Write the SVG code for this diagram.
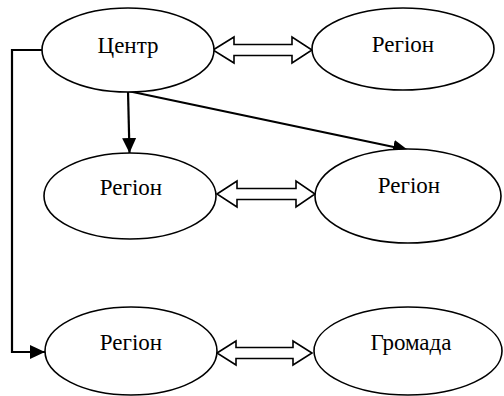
<svg xmlns="http://www.w3.org/2000/svg" width="504" height="396" viewBox="0 0 504 396" font-family="Liberation Serif">
<defs>
<marker id="ah" markerWidth="15" markerHeight="14" refX="15" refY="7" orient="auto" markerUnits="userSpaceOnUse">
<path d="M0,0 L15,7 L0,14 Z" fill="#000"/>
</marker>
</defs>
<rect width="504" height="396" fill="#fff"/>
<g id="connectors" fill="none" stroke="#000" stroke-width="2.2">
<line x1="128" y1="91" x2="129.5" y2="153" marker-end="url(#ah)"/>
<line x1="128" y1="91" x2="408" y2="150" marker-end="url(#ah)"/>
<polyline points="42,50 12,50 12,352 45,352" marker-end="url(#ah)"/>
<g fill="#fff" stroke-width="1.6">
<path d="M213,50 L234,37 L234,44.5 L292,44.5 L292,37 L312,50 L292,63 L292,55.5 L234,55.5 L234,63 Z"/>
<path d="M217,194 L237,181 L237,188.5 L296,188.5 L296,181 L315,194 L296,207 L296,199.5 L237,199.5 L237,207 Z"/>
<path d="M217,353 L236,341 L236,347.5 L293,347.5 L293,341 L312,353 L293,365 L293,358.5 L236,358.5 L236,365 Z"/>
</g>
</g>
<g id="n1"><ellipse cx="128" cy="50" rx="86" ry="42" fill="#fff" stroke="#000" stroke-width="1.6"/><text x="128" y="53" font-family="Times New Roman" font-size="23" text-anchor="middle">Центр</text></g>
<g id="n2"><ellipse cx="403" cy="49" rx="91" ry="41" fill="#fff" stroke="#000" stroke-width="1.6"/><text x="403" y="52" font-family="Times New Roman" font-size="23" text-anchor="middle">Регіон</text></g>
<g id="n3"><ellipse cx="130" cy="196" rx="86" ry="43" fill="#fff" stroke="#000" stroke-width="1.6"/><text x="131" y="195" font-family="Times New Roman" font-size="23" text-anchor="middle">Регіон</text></g>
<g id="n4"><ellipse cx="408" cy="196" rx="93" ry="47" fill="#fff" stroke="#000" stroke-width="1.6"/><text x="409" y="193" font-family="Times New Roman" font-size="23" text-anchor="middle">Регіон</text></g>
<g id="n5"><ellipse cx="131" cy="351" rx="86" ry="44" fill="#fff" stroke="#000" stroke-width="1.6"/><text x="131" y="350" font-family="Times New Roman" font-size="23" text-anchor="middle">Регіон</text></g>
<g id="n6"><ellipse cx="408" cy="351" rx="94" ry="44" fill="#fff" stroke="#000" stroke-width="1.6"/><text x="411" y="350" font-family="Times New Roman" font-size="23" text-anchor="middle">Громада</text></g>
</svg>
